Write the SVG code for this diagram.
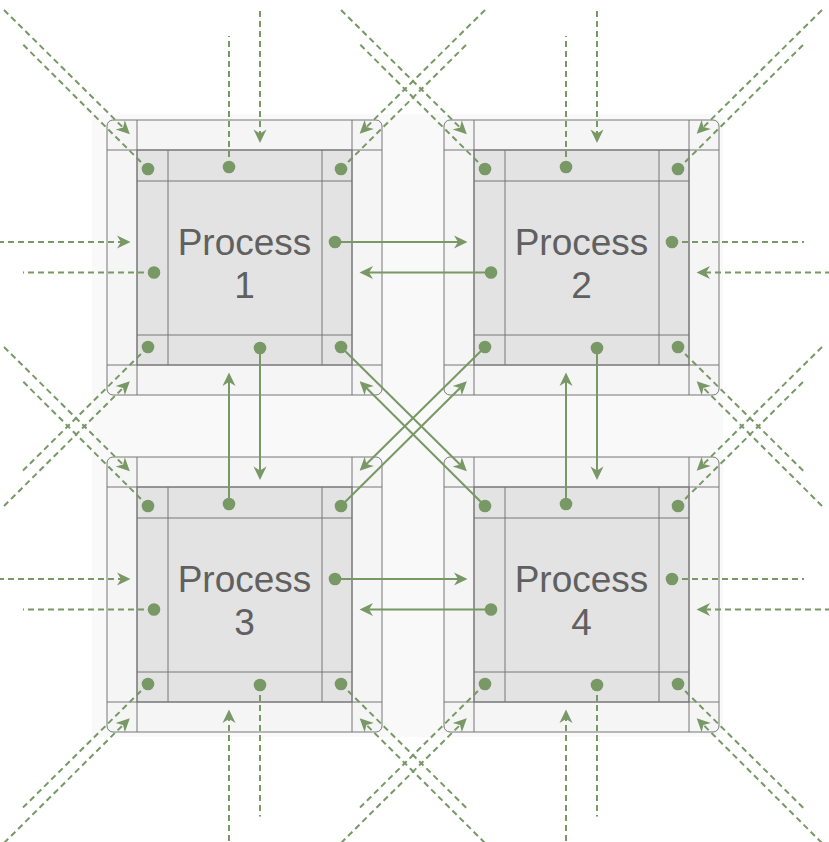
<svg xmlns="http://www.w3.org/2000/svg" width="829" height="842" viewBox="0 0 829 842">
<style>
.outer{fill:#f5f5f5;stroke:#777777;stroke-width:1}
.inner{fill:#e3e3e3;stroke:#777777;stroke-width:1}
.grid{stroke:#777777;stroke-width:1;fill:none}
.lbl{font-family:"Liberation Sans",Arial,Helvetica,sans-serif;font-size:37px;fill:#606060;text-anchor:middle}
.c{stroke:#789865;stroke-width:2;fill:none}
.d{stroke:#789865;stroke-width:2;fill:none;stroke-dasharray:6 4}
.h{marker-end:url(#ah)}
.port{fill:#789865}
</style>
<defs>
<marker id="ah" markerUnits="userSpaceOnUse" markerWidth="15" markerHeight="15" refX="5" refY="6.5" orient="auto" overflow="visible">
<path d="M0,0 L13.5,6.5 L0,13 L4,6.5 Z" fill="#789865" stroke="none"/>
</marker>
<g id="blk">
<rect class="outer" x="0" y="0" width="275" height="275" rx="6"/>
<rect class="inner" x="30" y="30" width="215" height="215"/>
<path class="grid" d="M30,0V275M245,0V275M0,30H275M0,245H275M61,30V245M215,30V245M30,61H245M30,215H245"/>
</g>
<g id="ports">
<circle class="port" cx="41" cy="49" r="6.3"/>
<circle class="port" cx="122" cy="47" r="6.3"/>
<circle class="port" cx="234" cy="49" r="6.3"/>
<circle class="port" cx="228" cy="122" r="6.3"/>
<circle class="port" cx="234" cy="227" r="6.3"/>
<circle class="port" cx="153" cy="228" r="6.3"/>
<circle class="port" cx="41" cy="227" r="6.3"/>
<circle class="port" cx="47" cy="152.5" r="6.3"/>
</g>
</defs>
<rect x="0" y="0" width="829" height="842" fill="#ffffff"/>
<rect x="92" y="114" width="631" height="623" fill="#f9f9f9"/>
<g id="process1" transform="translate(107,120)">
<use href="#blk"/>
<text class="lbl" x="137.5" y="134.5">Process</text>
<text class="lbl" x="137.5" y="177.5">1</text>
</g>
<g id="process2" transform="translate(444,120)">
<use href="#blk"/>
<text class="lbl" x="137.5" y="134.5">Process</text>
<text class="lbl" x="137.5" y="177.5">2</text>
</g>
<g id="process3" transform="translate(107,457)">
<use href="#blk"/>
<text class="lbl" x="137.5" y="134.5">Process</text>
<text class="lbl" x="137.5" y="177.5">3</text>
</g>
<g id="process4" transform="translate(444,457)">
<use href="#blk"/>
<text class="lbl" x="137.5" y="134.5">Process</text>
<text class="lbl" x="137.5" y="177.5">4</text>
</g>
<g id="connectors">
<path class="c h" d="M335,242L459,242"/>
<path class="c h" d="M341,347L460.8,465.3"/>
<path class="c h" d="M260,348L260,471.5"/>
<path class="c h" d="M597,348L597,471.5"/>
<path class="c h" d="M485,347L365.7,464.8"/>
<path class="c h" d="M491,272.5L368,272.5"/>
<path class="c h" d="M229,504L229,381"/>
<path class="c h" d="M341,506L460.8,387.2"/>
<path class="c h" d="M335,579L459,579"/>
<path class="c h" d="M485,506L365.7,387.2"/>
<path class="c h" d="M566,504L566,381"/>
<path class="c h" d="M491,609.5L368,609.5"/>
<path class="d h" d="M4,10L123.8,128.3"/>
<path class="d h" d="M260,11L260,134.5"/>
<path class="d h" d="M485,10L365.7,127.8"/>
<path class="d h" d="M4,506L123.8,387.2"/>
<path class="d h" d="M-2,242L122,242"/>
<path class="d h" d="M341,10L460.8,128.3"/>
<path class="d h" d="M597,11L597,134.5"/>
<path class="d h" d="M822,10L702.7,127.8"/>
<path class="d h" d="M831,272.5L705,272.5"/>
<path class="d h" d="M822,506L702.7,387.2"/>
<path class="d h" d="M4,347L123.8,465.3"/>
<path class="d h" d="M-2,579L122,579"/>
<path class="d h" d="M4,843L123.8,724.2"/>
<path class="d h" d="M229,841L229,718"/>
<path class="d h" d="M485,843L365.7,724.2"/>
<path class="d h" d="M822,347L702.7,464.8"/>
<path class="d h" d="M831,609.5L705,609.5"/>
<path class="d h" d="M822,843L702.7,724.2"/>
<path class="d h" d="M566,841L566,718"/>
<path class="d h" d="M341,843L460.8,724.2"/>
<path class="d" d="M148,169L23,44.5"/>
<path class="d" d="M229,167L229,36"/>
<path class="d" d="M341,169L466.5,44.5"/>
<path class="d" d="M148,347L23,470.5"/>
<path class="d" d="M154,272.5L23,272.5"/>
<path class="d" d="M485,169L360,44.5"/>
<path class="d" d="M566,167L566,36"/>
<path class="d" d="M678,169L803.5,44.5"/>
<path class="d" d="M672,242L804,242"/>
<path class="d" d="M678,347L803.5,471"/>
<path class="d" d="M148,506L23,381.5"/>
<path class="d" d="M260,685L260,816.5"/>
<path class="d" d="M341,684L466.5,808"/>
<path class="d" d="M148,684L23,807.5"/>
<path class="d" d="M154,609.5L23,609.5"/>
<path class="d" d="M678,506L803.5,381.5"/>
<path class="d" d="M672,579L804,579"/>
<path class="d" d="M678,684L803.5,808"/>
<path class="d" d="M597,685L597,816.5"/>
<path class="d" d="M485,684L360,807.5"/>
</g>
<g id="process1-ports" transform="translate(107,120)"><use href="#ports"/></g>
<g id="process2-ports" transform="translate(444,120)"><use href="#ports"/></g>
<g id="process3-ports" transform="translate(107,457)"><use href="#ports"/></g>
<g id="process4-ports" transform="translate(444,457)"><use href="#ports"/></g>
</svg>
